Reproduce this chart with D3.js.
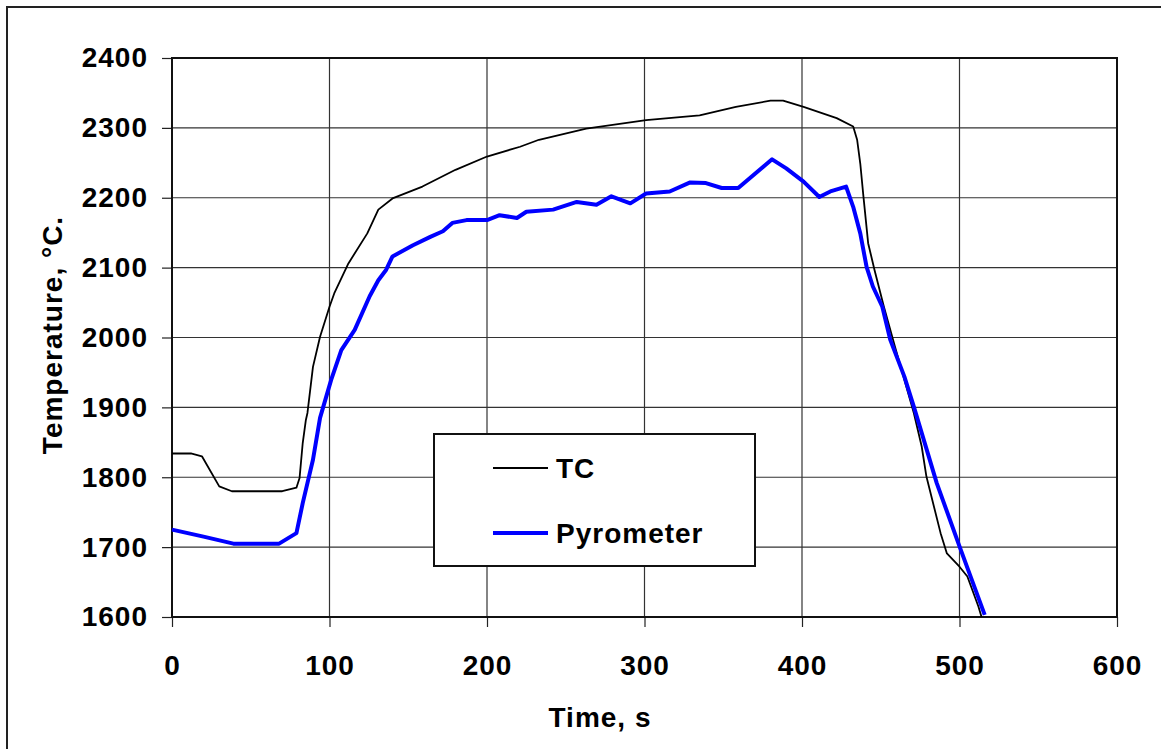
<!DOCTYPE html>
<html>
<head>
<meta charset="utf-8">
<script src="https://cdn.jsdelivr.net/npm/d3@7"></script>
<style>
  body { margin: 0; background: #fff; }
  text { font-family: "Liberation Sans", Arial, sans-serif; font-weight: bold; letter-spacing: 1px; }
</style>
</head>
<body>
<div id="chart"></div>
<script>
// thermocouple reading
var tcTime = [0, 12, 19, 30, 38, 70, 79, 81, 83, 85, 86, 89.5, 94, 100, 103, 112, 124, 131, 140, 159, 180, 200, 221, 233, 263, 301, 335, 358, 380, 388, 401, 422, 432.5, 435, 437, 439, 442, 446, 452, 459, 471, 476, 479, 488, 492, 500, 505, 512, 514]
var tcTemp = [1834, 1834, 1830, 1787, 1780, 1780, 1785, 1799, 1849, 1882, 1892, 1958, 2001, 2044, 2063, 2106, 2149, 2183, 2199, 2216, 2240, 2259, 2273, 2283, 2299, 2311, 2318, 2330, 2339, 2339, 2330, 2314, 2302, 2283, 2249, 2202, 2135, 2097, 2044, 1987, 1892, 1844, 1801, 1720, 1691, 1672, 1658, 1615, 1600]

// pyrometer reading
var pyTime = [0, 20, 39, 68, 79, 83, 89.5, 94, 101, 107.5, 116, 125.5, 131, 136, 140, 153, 164, 172, 178, 187, 200, 208, 219, 225, 242, 257, 269.5, 279, 291, 301, 316, 329, 339, 349, 359.5, 381, 390, 401, 411, 418, 428, 432.5, 437, 441, 445, 451, 456, 465, 471, 485.5, 500, 516]
var pyTemp = [1725, 1715, 1705, 1705, 1720, 1763, 1825, 1885, 1939, 1982, 2011, 2059, 2082, 2097, 2116, 2132, 2144, 2152, 2164, 2168, 2168, 2175, 2171, 2180, 2183, 2194, 2190, 2202, 2192, 2206, 2209, 2222, 2221, 2214, 2214, 2255, 2242, 2223, 2201, 2209, 2216, 2187, 2149, 2101, 2073, 2044, 1997, 1944, 1901, 1792, 1701, 1603]

var xTicks = [0, 100, 200, 300, 400, 500, 600]
var yTicks = [1600, 1700, 1800, 1900, 2000, 2100, 2200, 2300, 2400]
var seriesNames = ["TC", "Pyrometer"]

const width = 1161
const height = 749
margin = ({ top: 58, right: 44, bottom: 132, left: 172 })

color = d3.scaleOrdinal(seriesNames, ["#000000", "#0000ff"])
strokeW = d3.scaleOrdinal(seriesNames, [1.8, 4])

var x = d3.scaleLinear()
    .domain([0, 600])
    .range([margin.left, width - margin.right])

var y = d3.scaleLinear()
    .domain([1600, 2400])
    .range([height - margin.bottom, margin.top])

var svg = d3.select('#chart')
    .append("svg")
    .attr('width', width)
    .attr('height', height)

// outer chart border (runs past the window on right and bottom)
svg.append("rect")
    .attr("x", 7).attr("y", 7)
    .attr("width", 1170).attr("height", 770)
    .attr("fill", "none")
    .attr("stroke", "#222")
    .attr("stroke-width", 2)

// grid
svg.append("g")
    .selectAll("line")
    .data(yTicks.slice(1, -1))
    .join("line")
    .attr("x1", x(0)).attr("x2", x(600))
    .attr("y1", d => y(d)).attr("y2", d => y(d))
    .attr("stroke", "#333").attr("stroke-width", 1.2)

svg.append("g")
    .selectAll("line")
    .data(xTicks.slice(1, -1))
    .join("line")
    .attr("y1", y(1600)).attr("y2", y(2400))
    .attr("x1", d => x(d)).attr("x2", d => x(d))
    .attr("stroke", "#333").attr("stroke-width", 1.2)

xAxis = g => g
    .attr("transform", `translate(0,${height - margin.bottom})`)
    .call(d3.axisBottom(x).tickValues(xTicks).tickFormat(d3.format("d")).tickSize(10).tickPadding(28).tickSizeOuter(0))
    .call(g => g.select(".domain").remove())
    .call(g => g.selectAll(".tick line").attr("stroke", "#222").attr("stroke-width", 1.2))
    .call(g => g.selectAll("text").attr("font-size", 28).attr("fill", "#000"))

yAxis = g => g
    .attr("transform", `translate(${margin.left},0)`)
    .call(d3.axisLeft(y).tickValues(yTicks).tickFormat(d3.format("d")).tickSize(10).tickPadding(14).tickSizeOuter(0))
    .call(g => g.select(".domain").remove())
    .call(g => g.selectAll(".tick line").attr("stroke", "#222").attr("stroke-width", 1.2))
    .call(g => g.selectAll("text").attr("font-size", 28).attr("fill", "#000"))

svg.append("g").call(xAxis)
svg.append("g").call(yAxis)

// plot frame
svg.append("rect")
    .attr("x", x(0)).attr("y", y(2400))
    .attr("width", x(600) - x(0)).attr("height", y(1600) - y(2400))
    .attr("fill", "none")
    .attr("stroke", "#111")
    .attr("stroke-width", 2)

var line = d3.line()
    .x(d => x(d[0]))
    .y(d => y(d[1]))

var series = [
    { name: "TC", pts: d3.zip(tcTime, tcTemp) },
    { name: "Pyrometer", pts: d3.zip(pyTime, pyTemp) }
]

svg.append("g")
    .selectAll("path")
    .data(series)
    .join("path")
    .attr("d", d => line(d.pts))
    .attr("fill", "none")
    .attr("stroke", d => color(d.name))
    .attr("stroke-width", d => strokeW(d.name))
    .attr("stroke-linejoin", "round")

// legend
legend = ({ g, x = 0, y = 0, w = 321, h = 132, intervalY = 65 }) => {
    g.append("rect")
        .attr("x", x).attr("y", y)
        .attr("width", w).attr("height", h)
        .attr("fill", "#fff")
        .attr("stroke", "#111")
        .attr("stroke-width", 2)

    item = g.selectAll('g')
        .data(color.domain())
        .join('g')

    item.append("line")
        .attr("x1", x + 59).attr("x2", x + 114)
        .attr("y1", (d, i) => y + 34 + i * intervalY)
        .attr("y2", (d, i) => y + 34 + i * intervalY)
        .attr("stroke", d => color(d))
        .attr("stroke-width", d => strokeW(d))

    item.append("text")
        .attr("x", x + 122)
        .attr("y", (d, i) => y + 34 + i * intervalY)
        .attr("dy", "0.35em")
        .attr("font-size", 28)
        .text(d => d)
}

svg.append("g").call(g => legend({ g: g, x: 434, y: 434 }))

// axis titles
svg.append("text")
    .attr("x", 600)
    .attr("y", 727)
    .attr("text-anchor", "middle")
    .attr("font-size", 28)
    .text("Time, s")

svg.append("text")
    .attr("transform", `translate(62,335) rotate(-90)`)
    .attr("text-anchor", "middle")
    .attr("font-size", 28)
    .text("Temperature, °C.")
</script>
</body>
</html>
